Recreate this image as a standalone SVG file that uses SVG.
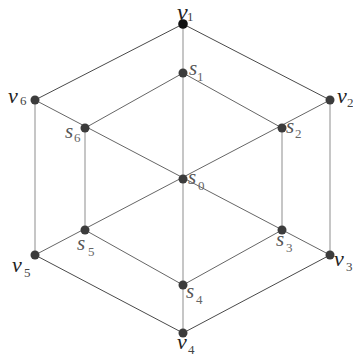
<svg xmlns="http://www.w3.org/2000/svg" width="353" height="356" viewBox="0 0 353 356">
<style>
.e{stroke:#4a4a4a;stroke-width:1;fill:none}
.d{stroke:#666;stroke-width:1;fill:none}
.vt{stroke:#a0a0a0;stroke-width:1.2;fill:none}
.n{fill:#3c3c3c}
.t{fill:#222}
.ts{fill:#555}
.sub{fill:#444}
.subs{fill:#666}
</style>
<rect width="353" height="356" fill="#fff"/>
<g id="connectors">
<line class="vt" x1="183" y1="24" x2="183" y2="333"/>
<line class="vt" x1="35" y1="100" x2="35" y2="255"/>
<line class="vt" x1="330" y1="100" x2="330" y2="255"/>
<line class="vt" x1="85" y1="128" x2="85" y2="230"/>
<line class="vt" x1="282" y1="128" x2="282" y2="230"/>
<line class="e" x1="183" y1="24" x2="330" y2="100"/>
<line class="e" x1="183" y1="24" x2="35" y2="100"/>
<line class="e" x1="35" y1="255" x2="183" y2="333"/>
<line class="e" x1="330" y1="255" x2="183" y2="333"/>
<line class="d" x1="183" y1="73" x2="282" y2="128"/>
<line class="d" x1="183" y1="73" x2="85" y2="128"/>
<line class="d" x1="85" y1="230" x2="183" y2="285"/>
<line class="d" x1="282" y1="230" x2="183" y2="285"/>
<line class="d" x1="35" y1="100" x2="330" y2="255"/>
<line class="d" x1="330" y1="100" x2="35" y2="255"/>
</g>
<g font-family="Liberation Serif, serif">
<g font-style="italic" font-size="22">
<g id="v1"><circle cx="183" cy="24" r="4.8" fill="#111"/><text class="t" x="177" y="20" font-size="24">v</text><text class="sub" x="187" y="21" font-style="normal" font-size="13">1</text></g>
<g id="v2"><circle class="n" cx="330" cy="100" r="4.5"/><text class="t" x="337" y="103">v</text><text class="sub" x="347" y="107" font-style="normal" font-size="13">2</text></g>
<g id="v3"><circle class="n" cx="330" cy="255" r="4.5"/><text class="t" x="334" y="266">v</text><text class="sub" x="346" y="271" font-style="normal" font-size="13">3</text></g>
<g id="v4"><circle class="n" cx="183" cy="333" r="4.5"/><text class="t" x="177" y="349">v</text><text class="sub" x="188" y="354" font-style="normal" font-size="13">4</text></g>
<g id="v5"><circle class="n" cx="35" cy="255" r="4.5"/><text class="t" x="12" y="272">v</text><text class="sub" x="24" y="277" font-style="normal" font-size="13">5</text></g>
<g id="v6"><circle class="n" cx="35" cy="100" r="4.5"/><text class="t" x="8" y="103">v</text><text class="sub" x="20" y="105" font-style="normal" font-size="13">6</text></g>
<g id="s0"><circle class="n" cx="183" cy="179" r="4.5"/><text class="ts" x="188" y="184" font-size="21">s</text><text class="subs" x="198" y="190" font-style="normal" font-size="13">0</text></g>
<g id="s1"><circle class="n" cx="183" cy="73" r="4.5"/><text class="ts" x="189" y="75" font-size="21">s</text><text class="subs" x="197" y="81" font-style="normal" font-size="13">1</text></g>
<g id="s2"><circle class="n" cx="282" cy="128" r="4.5"/><text class="ts" x="286" y="133" font-size="21">s</text><text class="subs" x="295" y="138" font-style="normal" font-size="13">2</text></g>
<g id="s3"><circle class="n" cx="282" cy="230" r="4.5"/><text class="ts" x="276" y="246" font-size="21">s</text><text class="subs" x="286" y="252" font-style="normal" font-size="13">3</text></g>
<g id="s4"><circle class="n" cx="183" cy="285" r="4.5"/><text class="ts" x="186" y="298" font-size="21">s</text><text class="subs" x="196" y="304" font-style="normal" font-size="13">4</text></g>
<g id="s5"><circle class="n" cx="85" cy="230" r="4.5"/><text class="ts" x="77" y="250" font-size="21">s</text><text class="subs" x="88" y="256" font-style="normal" font-size="13">5</text></g>
<g id="s6"><circle class="n" cx="85" cy="128" r="4.5"/><text class="ts" x="65" y="138" font-size="21">s</text><text class="subs" x="74" y="142" font-style="normal" font-size="13">6</text></g>
</g>
</g>
</svg>
